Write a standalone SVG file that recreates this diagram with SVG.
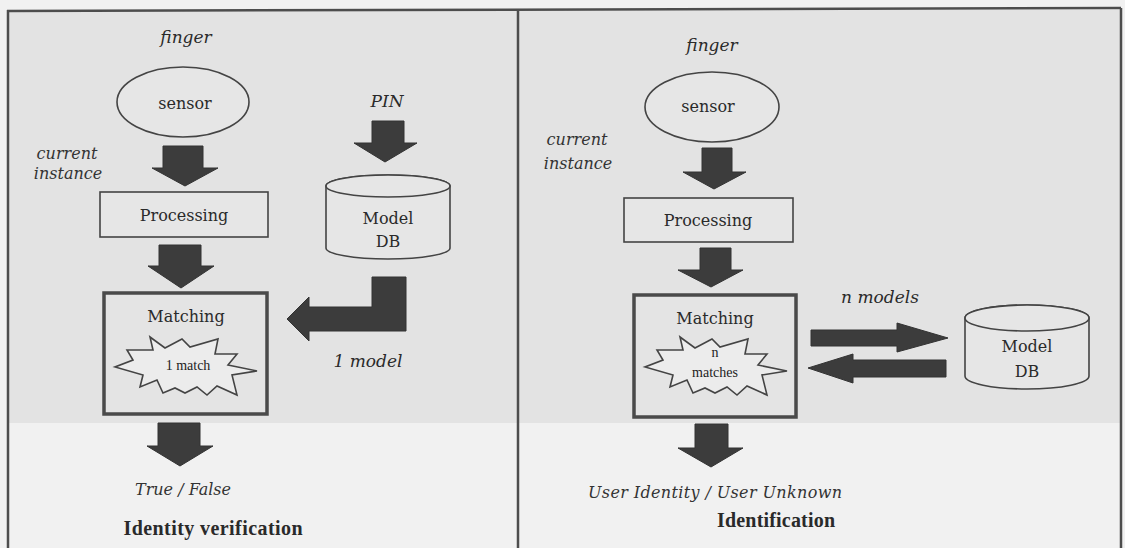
<svg xmlns="http://www.w3.org/2000/svg" xmlns:xlink="http://www.w3.org/1999/xlink" width="1125" height="548" viewBox="0 0 1125 548">
<style>
.frame{stroke:#4d4d4d;stroke-width:2.5;fill:none}
.shape{fill:#e6e6e6;stroke:#444;stroke-width:1.6}
.starf{fill:#ececec;stroke:#444;stroke-width:1.6}
.mbox{fill:#e4e4e4;stroke:#4a4a4a;stroke-width:3.5}
.arrow{fill:#3c3c3c;stroke:#333;stroke-width:1}
.lbl{font-family:"DejaVu Serif","Liberation Serif",serif;font-size:16px;fill:#2a2a2a;text-anchor:middle}
.it{font-family:"DejaVu Serif","Liberation Serif",serif;font-style:italic;font-size:17px;fill:#2a2a2a;text-anchor:middle}
.it2{font-family:"DejaVu Serif",serif;font-style:italic;font-size:16px;fill:#333;text-anchor:middle}
.sm{font-family:"Liberation Serif",serif;font-size:14px;fill:#222;text-anchor:middle}
.bold{font-family:"Liberation Serif",serif;font-weight:bold;font-size:20px;fill:#2a2a2a;text-anchor:middle}
</style>
<defs>
<path id="star" d="M-36,-29 L-21,-18 L-4,-27 L4,-19 L32,-27 L29,-12 L51,-12 L42,-1 L71,5 L46,9 L51,29 L31,20 L21,29 L11,21 L-1,27 L-11,22 L-23,27 L-29,14 L-46,21 L-43,9 L-71,1 L-53,-6 L-59,-16 L-33,-16 Z"/>
</defs>
<rect x="0" y="0" width="1125" height="548" fill="#f1f1f1"/>
<rect x="8" y="10" width="1113" height="413" fill="#e3e3e3"/>
<g id="frame">
<path class="frame" d="M7,11 L1121,8"/>
<path class="frame" d="M8,10 L8,548"/>
<path class="frame" d="M1121,8 L1121,548"/>
<path class="frame" d="M518,10 L518,548"/>
</g>

<!-- Left panel -->
<g id="left-finger"><text class="it" x="186" y="43">finger</text></g>
<g id="left-sensor">
<ellipse class="shape" cx="183" cy="102" rx="66" ry="35"/>
<text class="lbl" x="185" y="109">sensor</text>
</g>
<g id="left-current"><text class="it2" x="67" y="159">current</text><text class="it2" x="68" y="179">instance</text></g>
<g id="left-processing">
<rect class="shape" x="100" y="192" width="168" height="45"/>
<text class="lbl" x="184" y="221">Processing</text>
</g>
<g id="left-pin"><text class="it" x="387" y="107">PIN</text></g>
<g id="left-modeldb">
<path class="shape" d="M326,186 L326,248 A62,11 0 0 0 450,248 L450,186 A62,11 0 0 0 326,186 Z"/>
<ellipse class="shape" cx="388" cy="186" rx="62" ry="11"/>
<text class="lbl" x="388" y="224">Model</text>
<text class="lbl" x="388" y="247">DB</text>
</g>
<g id="left-matching">
<rect class="mbox" x="104" y="293" width="163" height="121"/>
<text class="lbl" x="186" y="322">Matching</text>
<use xlink:href="#star" class="starf" transform="translate(186,366)"/>
<text class="sm" x="188" y="370">1 match</text>
</g>
<g id="left-1model"><text class="it" x="368" y="367">1 model</text></g>
<g id="left-result"><text class="it2" x="183" y="495">True / False</text></g>
<g id="left-title"><text class="bold" x="213" y="535" textLength="179">Identity verification</text></g>

<!-- Right panel -->
<g id="right-finger"><text class="it" x="712" y="51">finger</text></g>
<g id="right-sensor">
<ellipse class="shape" cx="712" cy="107" rx="67" ry="35"/>
<text class="lbl" x="708" y="112">sensor</text>
</g>
<g id="right-current"><text class="it2" x="577" y="145">current</text><text class="it2" x="578" y="169">instance</text></g>
<g id="right-processing">
<rect class="shape" x="624" y="198" width="169" height="44"/>
<text class="lbl" x="708" y="226">Processing</text>
</g>
<g id="right-matching">
<rect class="mbox" x="634" y="295" width="162" height="122"/>
<text class="lbl" x="715" y="324">Matching</text>
<use xlink:href="#star" class="starf" transform="translate(716,366)"/>
<text class="sm" x="715" y="357">n</text>
<text class="sm" x="715" y="377">matches</text>
</g>
<g id="right-nmodels"><text class="it" x="880" y="303">n models</text></g>
<g id="right-modeldb">
<path class="shape" d="M965,318 L965,376 A62,13 0 0 0 1089,376 L1089,318 A62,13 0 0 0 965,318 Z"/>
<ellipse class="shape" cx="1027" cy="318" rx="62" ry="13"/>
<text class="lbl" x="1027" y="352">Model</text>
<text class="lbl" x="1027" y="377">DB</text>
</g>
<g id="right-result"><text class="it2" x="715" y="498" textLength="254">User Identity / User Unknown</text></g>
<g id="right-title"><text class="bold" x="776" y="527" textLength="118">Identification</text></g>

<g id="connectors">
<!-- left -->
<path class="arrow" d="M163,146 L203,146 L203,168 L218,168 L185,186 L152,168 L163,168 Z"/>
<path class="arrow" d="M159,245 L201,245 L201,266 L214,266 L181,288 L148,266 L159,266 Z"/>
<path class="arrow" d="M158,423 L200,423 L200,446 L213,446 L180,466 L147,446 L158,446 Z"/>
<path class="arrow" d="M372,121 L404,121 L404,143 L417,143 L385,162 L354,143 L372,143 Z"/>
<path class="arrow" d="M372,277 L406,277 L406,331 L309,331 L309,341 L287,319 L309,297 L309,307 L372,307 Z"/>
<!-- right -->
<path class="arrow" d="M702,148 L732,148 L732,172 L746,172 L714,189 L683,172 L702,172 Z"/>
<path class="arrow" d="M700,248 L731,248 L731,270 L743,270 L711,287 L678,270 L700,270 Z"/>
<path class="arrow" d="M695,424 L728,424 L728,448 L743,448 L711,467 L678,448 L695,448 Z"/>
<path class="arrow" d="M811,330 L897,330 L897,323 L948,338 L897,352 L897,346 L811,346 Z"/>
<path class="arrow" d="M946,360 L853,360 L853,354 L808,368 L853,383 L853,377 L946,377 Z"/>
</g>
</svg>
